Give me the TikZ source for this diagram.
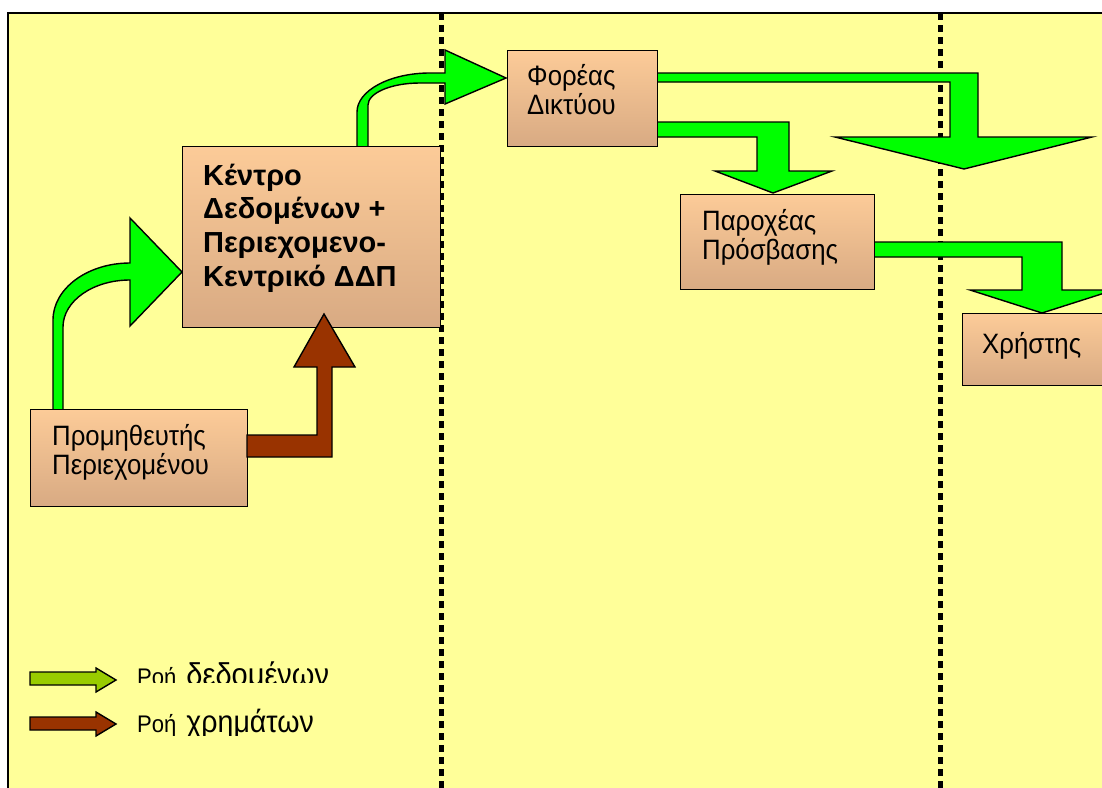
\documentclass[tikz,border=0pt]{standalone}
\usepackage{fontspec}
\setmainfont{Liberation Sans}
\newfontfamily\tallsans[FakeStretch=0.92]{Liberation Sans}
\definecolor{bgyellow}{HTML}{FFFF99}
\definecolor{boxtop}{HTML}{FCCB98}
\definecolor{boxbot}{HTML}{D8AA83}
\definecolor{flowgreen}{HTML}{00FF00}
\definecolor{moneybrown}{HTML}{993300}
\definecolor{leggreen}{HTML}{99CC00}
\newcommand\stacked[1]{\begin{tabular}[t]{@{}l@{}}#1\end{tabular}}
\begin{document}
\begin{tikzpicture}[x=1pt,y=-1pt,
  box/.style={draw=black, line width=1.4pt, top color=boxtop, bottom color=boxbot,
              anchor=north west, inner sep=0pt},
  txt/.style={anchor=base west, inner sep=0pt, font=\tallsans\fontsize{28pt}{28pt}\selectfont},
  boldtxt/.style={anchor=base west, inner sep=0pt, font=\fontsize{29pt}{33.7pt}\selectfont\bfseries},
  flow/.style={draw=black, line width=1.4pt, fill=flowgreen, line join=miter},
  money/.style={draw=black, line width=1.4pt, fill=moneybrown, line join=miter},
  sepline/.style={draw=black, line width=5pt, dash pattern=on 7pt off 5pt}]
\useasboundingbox (0,0) rectangle (1102,787);
\clip (0,0) rectangle (1102,787);
\fill[white] (0,0) rectangle (1102,787);
% panel
\draw[line width=2pt, fill=bgyellow] (8,13) rectangle (1130,800);
% column separators
\draw[sepline] (441,13) -- (441,790);
\draw[sepline] (940,13) -- (940,790);

% data flows (behind the boxes)
\draw[flow] (53,415) -- (53,320) .. controls (53,288.5) and (87.5,263) .. (130,263)
  -- (130,218) -- (182,272) -- (130,326) -- (130,280)
  .. controls (93,280) and (63,301) .. (63,327) -- (63,415) -- cycle;
\draw[flow] (357,152) -- (357,112) .. controls (357,90.5) and (390,73) .. (430,73)
  -- (445,73) -- (445,50) -- (506,78) -- (445,104) -- (445,83) -- (420,83)
  .. controls (391,83) and (368,93) .. (368,105) -- (368,152) -- cycle;
\draw[flow] (650,73) -- (978,73) -- (978,137) -- (1092,137) -- (964,169)
  -- (835,137) -- (950,137) -- (950,82) -- (650,82) -- cycle;
\draw[flow] (650,122) -- (789,122) -- (789,171) -- (832,171) -- (773,193)
  -- (715,171) -- (757,171) -- (757,137) -- (650,137) -- cycle;
\draw[flow] (868,242) -- (1062,242) -- (1062,290) -- (1114,290) -- (1042,313)
  -- (970,290) -- (1022,290) -- (1022,257) -- (868,257) -- cycle;

% actors
\node[box, minimum width=258pt, minimum height=181pt] (kd) at (182,146) {};
\node[box, minimum width=150pt, minimum height=96pt] (fd) at (507,50) {};
\node[box, minimum width=194pt, minimum height=95pt] (pp) at (680,194) {};
\node[box, minimum width=170pt, minimum height=72pt] (us) at (962,313) {};
\node[box, minimum width=217pt, minimum height=97pt] (pr) at (30,409) {};

\node[boldtxt] (kdt) at (203,185) {\stacked{Κέντρο\\Δεδομένων +\\Περιεχομενο-\\Κεντρικό ΔΔΠ}};
\node[txt, font=\tallsans\fontsize{28pt}{29pt}\selectfont] (fdt) at (527,85) {\stacked{Φορέας\\Δικτύου}};
\node[txt] (ppt) at (702,230) {\stacked{Παροχέας\\Πρόσβασης}};
\node[txt] (ust) at (982,353) {Χρήστης};
\node[txt] (prt) at (52,445) {\stacked{Προμηθευτής\\Περιεχομένου}};

% money flow (in front of the data centre box)
\draw[money] (247,435) -- (317,435) -- (317,367) -- (294,367) -- (324,314)
  -- (355,367) -- (332,367) -- (332,457) -- (247,457) -- cycle;

% legend
\draw[draw=black, line width=1.4pt, fill=leggreen] (30,672) -- (96,672) -- (96,668)
  -- (116,680) -- (96,692) -- (96,685) -- (30,685) -- cycle;
\draw[money] (30,717) -- (96,717) -- (96,712) -- (116,724) -- (96,736)
  -- (96,730) -- (30,730) -- cycle;
\begin{scope}
  \clip (120,640) rectangle (420,682);
  \node[anchor=base west, inner sep=0pt] (leg1) at (137,685)
    {\tallsans\fontsize{24pt}{24pt}\selectfont Ροή\hspace{10pt}\fontsize{31.5pt}{31.5pt}\selectfont δεδομένων};
\end{scope}
\begin{scope}
  \clip (120,700) rectangle (420,735);
  \node[anchor=base west, inner sep=0pt] (leg2) at (137,732)
    {\tallsans\fontsize{24pt}{24pt}\selectfont Ροή\hspace{10pt}\fontsize{31pt}{31pt}\selectfont χρημάτων};
\end{scope}
\end{tikzpicture}
\end{document}
